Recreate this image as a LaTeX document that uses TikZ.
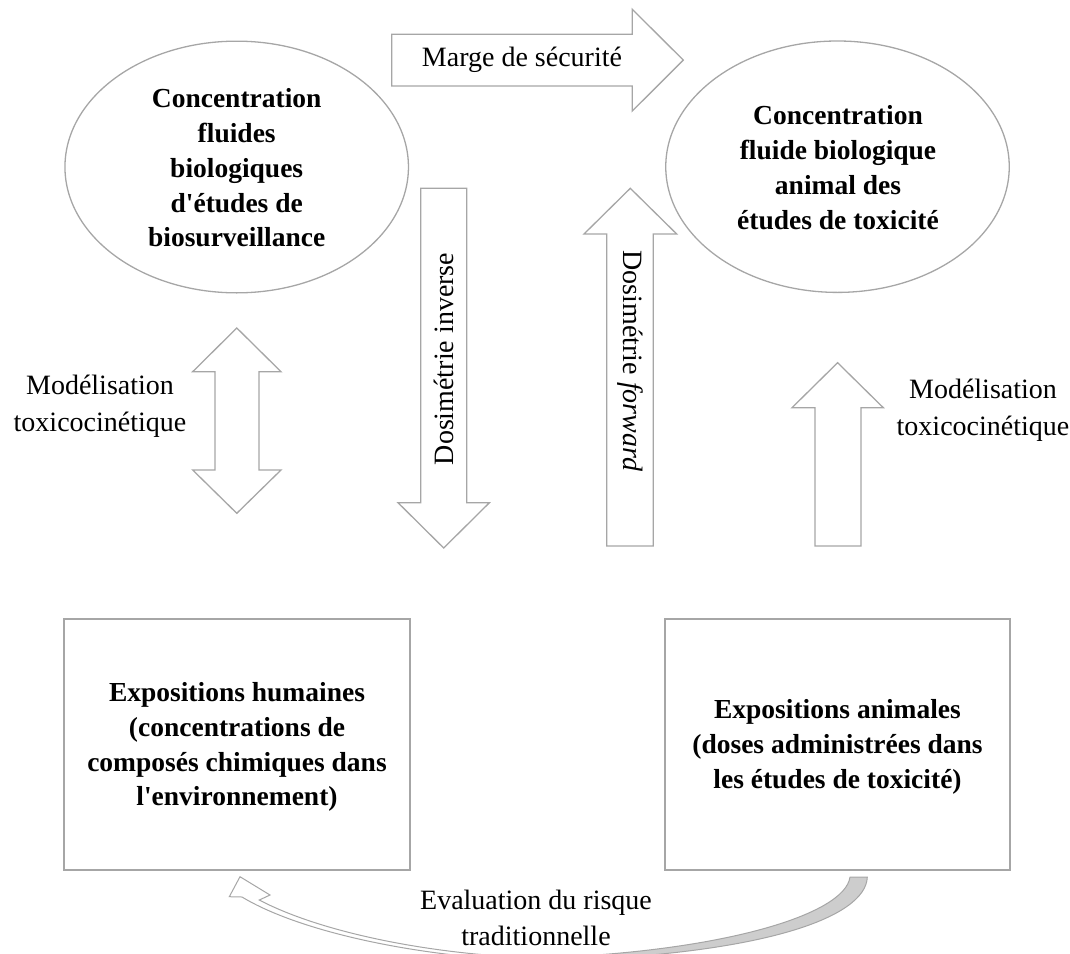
\documentclass[tikz,border=0pt]{standalone}
\usepackage{fontspec}
\setmainfont{Liberation Serif}[Ligatures=TeXOff]
\usetikzlibrary{shapes.geometric}
\definecolor{linegray}{HTML}{A6A6A6}
\definecolor{fillgray}{HTML}{CDCDCD}
\begin{document}
\begin{tikzpicture}[x=1pt,y=-1pt,
  shapeline/.style={draw=linegray, line width=1.3pt, line join=miter},
  boldtxt/.style={font=\fontsize{27.5}{34.8}\selectfont\bfseries, align=center, inner sep=0pt},
  regtxt/.style={font=\fontsize{28}{37}\selectfont, align=center, inner sep=0pt},
]
\useasboundingbox (0,0) rectangle (1070,953);

% ellipses
\node[shapeline, ellipse, minimum width=343.5pt, minimum height=251.7pt, inner sep=0pt] (bioH) at (236.7,167) {};
\node[boldtxt] (bioHt) at (236.7,168) {Concentration\\fluides\\biologiques\\d'études de\\biosurveillance};
\node[shapeline, ellipse, minimum width=343.5pt, minimum height=251.4pt, inner sep=0pt] (bioA) at (837.5,166.7) {};
\node[boldtxt] (bioAt) at (838,167.5) {Concentration\\fluide biologique\\animal des\\études de toxicité};

% boxes
\node[draw=linegray, line width=1.5pt, minimum width=346pt, minimum height=251pt, inner sep=0pt] (expH) at (237,744.5) {};
\node[boldtxt] (expHt) at (237,747) {Expositions humaines\\(concentrations de\\composés chimiques dans\\l'environnement)};
\node[draw=linegray, line width=1.5pt, minimum width=345pt, minimum height=251pt, inner sep=0pt] (expA) at (837.5,744.5) {};
\node[boldtxt] (expAt) at (837.5,747) {Expositions animales\\(doses administrées dans\\les études de toxicité)};

% Marge de securite arrow
\draw[shapeline, fill=white] (391.7,34.3) -- (632.3,34.3) -- (632.3,9.3) -- (683.3,60.1) -- (632.3,111) -- (632.3,86) -- (391.7,86) -- cycle;
\node[regtxt] (marge) at (522,60) {Marge de sécurité};

% Dosimetrie inverse (down)
\draw[shapeline, fill=white] (420.7,188.3) -- (466.7,188.3) -- (466.7,502.7) -- (489.4,502.7) -- (443.7,548) -- (398,502.7) -- (420.7,502.7) -- cycle;
\node[regtxt, rotate=90] (dosinv) at (443.7,359) {Dosimétrie inverse};

% Dosimetrie forward (up)
\draw[shapeline, fill=white] (606.7,546) -- (606.7,234) -- (584,234) -- (630.3,188.3) -- (676.7,234) -- (653.3,234) -- (653.3,546) -- cycle;
\node[regtxt, rotate=-90] (dosfwd) at (630,361) {Dosimétrie \textit{forward}};

% double arrow (left)
\draw[shapeline, fill=white] (236.8,328) -- (281,371.7) -- (259,371.7) -- (259,470) -- (281,470) -- (236.8,513.3) -- (192.7,470) -- (215,470) -- (215,371.7) -- (192.7,371.7) -- cycle;
\node[regtxt] (modH) at (100,406) {Modélisation\\toxicocinétique};

% right up arrow
\draw[shapeline, fill=white] (815,546) -- (815,407.7) -- (792,407.7) -- (837.6,362.7) -- (883.3,407.7) -- (861,407.7) -- (861,546) -- cycle;
\node[regtxt] (modA) at (983,410) {Modélisation\\toxicocinétique};

% curved arrow (traditional risk assessment)
\draw[shapeline, line width=1pt, fill=white] (240,876.7) -- (270,895) -- (259.3,900) .. controls (320,932) and (430,955) .. (540,958) -- (540,961) .. controls (420,958) and (300,932) .. (242,897) -- (229.3,896.7) -- cycle;
\draw[shapeline, line width=1pt, fill=fillgray] (540,958) .. controls (720,952) and (845,915) .. (850,877) -- (867.3,877) .. controls (866,918) and (760,956) .. (540,961) -- cycle;
\node[regtxt, font=\fontsize{28}{36}\selectfont] (evalr) at (536,918) {Evaluation du risque\\traditionnelle};
\end{tikzpicture}
\end{document}
